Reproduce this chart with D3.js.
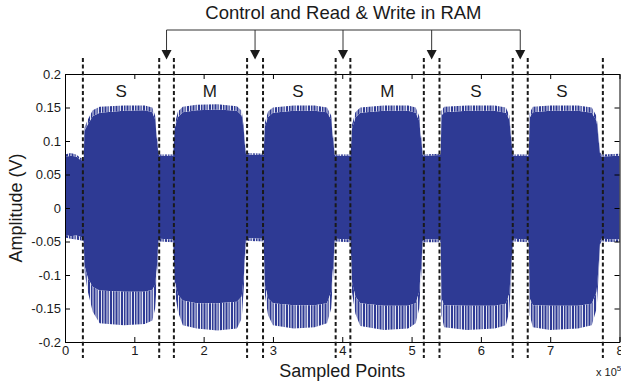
<!DOCTYPE html>
<html>
<head>
<meta charset="utf-8">
<script src="https://cdn.jsdelivr.net/npm/d3@7"></script>
<style>
  body { margin: 0; background: #fff; }
  text { font-family: "Liberation Sans", Arial, Helvetica, sans-serif; fill: #1a1a1a; }
</style>
</head>
<body>
<svg id="chart" width="621" height="388"></svg>
<script>
// axis ticks (x in units of 1e5 samples)
const xTicks = [0, 1, 2, 3, 4, 5, 6, 7, 8];
const yTicks = [-0.2, -0.15, -0.1, -0.05, 0, 0.05, 0.1, 0.15, 0.2];

// dashed segment boundaries, pairs around each RAM access gap
const boundaries = [0.258, 1.359, 1.571, 2.627, 2.857, 3.905, 4.117, 5.177, 5.403, 6.460, 6.676, 7.76];
const segLabels = ["S", "M", "S", "M", "S", "S"];
const segLabelX = [0.81, 2.09, 3.36, 4.65, 5.93, 7.17];
const title = "Control and Read & Write in RAM";

// signal envelope: [x, topSolid, topPeak, botSolid, botPeak]
const lead = [
  [0.00, 0.076, 0.080, -0.040, -0.044],
  [0.08, 0.078, 0.082, -0.042, -0.046],
  [0.16, 0.077, 0.080, -0.041, -0.047],
  [0.22, 0.072, 0.075, -0.043, -0.048],
  [0.27, 0.070, 0.074, -0.044, -0.050]
];
const burst1 = [
  [0.28, 0.115, 0.120, -0.085, -0.095],
  [0.33, 0.125, 0.132, -0.105, -0.125],
  [0.40, 0.137, 0.146, -0.118, -0.155],
  [0.50, 0.142, 0.151, -0.123, -0.172],
  [0.85, 0.145, 0.153, -0.125, -0.175],
  [1.15, 0.146, 0.153, -0.125, -0.173],
  [1.26, 0.143, 0.150, -0.122, -0.168],
  [1.30, 0.132, 0.138, -0.115, -0.150],
  [1.325, 0.105, 0.110, -0.090, -0.110],
  [1.345, 0.082, 0.085, -0.050, -0.055]
];
const gap1 = [
  [1.36, 0.078, 0.080, -0.046, -0.050],
  [1.56, 0.078, 0.080, -0.047, -0.051]
];
const burst2 = [
  [1.585, 0.120, 0.126, -0.110, -0.125],
  [1.63, 0.136, 0.144, -0.130, -0.155],
  [1.70, 0.143, 0.151, -0.138, -0.175],
  [1.90, 0.146, 0.154, -0.142, -0.180],
  [2.20, 0.147, 0.155, -0.142, -0.183],
  [2.48, 0.145, 0.152, -0.140, -0.180],
  [2.55, 0.138, 0.145, -0.132, -0.165],
  [2.585, 0.110, 0.115, -0.095, -0.110],
  [2.605, 0.082, 0.085, -0.050, -0.055]
];
const gap2 = [
  [2.62, 0.080, 0.082, -0.045, -0.049],
  [2.865, 0.079, 0.081, -0.046, -0.050]
];
const burst3 = [
  [2.885, 0.122, 0.128, -0.115, -0.130],
  [2.93, 0.136, 0.144, -0.135, -0.160],
  [3.00, 0.142, 0.150, -0.142, -0.175],
  [3.30, 0.145, 0.153, -0.145, -0.180],
  [3.60, 0.145, 0.153, -0.145, -0.178],
  [3.78, 0.143, 0.150, -0.142, -0.172],
  [3.84, 0.132, 0.138, -0.125, -0.150],
  [3.87, 0.100, 0.105, -0.085, -0.100],
  [3.89, 0.080, 0.083, -0.050, -0.054]
];
const gap3 = [
  [3.90, 0.078, 0.080, -0.046, -0.050],
  [4.12, 0.078, 0.080, -0.047, -0.051]
];
const burst4 = [
  [4.14, 0.118, 0.124, -0.110, -0.125],
  [4.19, 0.135, 0.143, -0.132, -0.158],
  [4.26, 0.142, 0.150, -0.142, -0.176],
  [4.60, 0.145, 0.153, -0.146, -0.182],
  [4.95, 0.145, 0.153, -0.146, -0.180],
  [5.06, 0.142, 0.150, -0.142, -0.172],
  [5.11, 0.130, 0.137, -0.125, -0.150],
  [5.14, 0.100, 0.105, -0.085, -0.100],
  [5.16, 0.080, 0.083, -0.050, -0.054]
];
const gap4 = [
  [5.17, 0.078, 0.080, -0.047, -0.051],
  [5.42, 0.079, 0.081, -0.047, -0.051]
];
const burst5 = [
  [5.432, 0.138, 0.145, -0.135, -0.160],
  [5.47, 0.143, 0.151, -0.145, -0.178],
  [5.80, 0.145, 0.153, -0.146, -0.182],
  [6.20, 0.145, 0.153, -0.146, -0.180],
  [6.36, 0.142, 0.150, -0.143, -0.175],
  [6.41, 0.132, 0.138, -0.128, -0.155],
  [6.44, 0.100, 0.105, -0.085, -0.100],
  [6.46, 0.080, 0.083, -0.050, -0.054]
];
const gap5 = [
  [6.47, 0.078, 0.080, -0.046, -0.050],
  [6.69, 0.078, 0.080, -0.047, -0.051]
];
const burst6 = [
  [6.705, 0.135, 0.142, -0.135, -0.160],
  [6.75, 0.143, 0.151, -0.145, -0.178],
  [7.00, 0.145, 0.153, -0.146, -0.182],
  [7.40, 0.145, 0.153, -0.146, -0.180],
  [7.60, 0.142, 0.150, -0.143, -0.175],
  [7.67, 0.130, 0.137, -0.125, -0.150],
  [7.70, 0.100, 0.105, -0.085, -0.100],
  [7.72, 0.080, 0.083, -0.050, -0.054]
];
const tail = [
  [7.74, 0.077, 0.080, -0.046, -0.050],
  [8.00, 0.078, 0.081, -0.047, -0.051]
];

const BLUE = "#2e3a94";
const margin = { left: 65, right: 621 - 619.5, top: 74, bottom: 388 - 342 };
const width = 621, height = 388;

const envelope = [].concat(lead, burst1, gap1, burst2, gap2, burst3, gap3, burst4, gap4, burst5, gap5, burst6, tail);

const svg = d3.select("#chart");

const x = d3.scaleLinear().domain([0, 8]).range([margin.left, width - margin.right]);
const y = d3.scaleLinear().domain([-0.2, 0.2]).range([height - margin.bottom, margin.top]);

// comb texture for the ragged peaks (uneven stripes)
const defs = svg.append("defs");
const comb = defs.append("pattern")
  .attr("id", "comb")
  .attr("patternUnits", "userSpaceOnUse")
  .attr("width", 11)
  .attr("height", 10);
[[0, 2], [3, 1.5], [5.5, 2], [8.5, 1.2]].forEach(([rx, rw]) => {
  comb.append("rect").attr("x", rx).attr("y", 0).attr("width", rw).attr("height", 10).attr("fill", BLUE);
});
comb.insert("rect", ":first-child").attr("width", 11).attr("height", 10).attr("fill", "#e4e6f2");

const sig = svg.append("g");

sig.append("path")
  .datum(envelope)
  .attr("fill", BLUE)
  .attr("d", d3.area().x(d => x(d[0])).y0(d => y(d[3])).y1(d => y(d[1])));

sig.append("path")
  .datum(envelope)
  .attr("fill", "url(#comb)")
  .attr("d", d3.area().x(d => x(d[0])).y0(d => y(d[1])).y1(d => y(d[2])));

sig.append("path")
  .datum(envelope)
  .attr("fill", "url(#comb)")
  .attr("d", d3.area().x(d => x(d[0])).y0(d => y(d[4])).y1(d => y(d[3])));

// axes, MATLAB style: box with inward ticks
const fmt = d => String(d);
const x0 = x.range()[0], x1 = x.range()[1];
const y0 = y.range()[0], y1 = y.range()[1];

svg.append("g")
  .attr("transform", `translate(0,${y0})`)
  .call(d3.axisBottom(x).tickValues(xTicks).tickFormat(fmt).tickSize(-5).tickSizeOuter(0).tickPadding(4))
  .call(g => g.selectAll("text").attr("font-size", 13));

svg.append("g")
  .attr("transform", `translate(0,${y1})`)
  .call(d3.axisTop(x).tickValues(xTicks).tickFormat("").tickSize(-5).tickSizeOuter(0));

svg.append("g")
  .attr("transform", `translate(${x0},0)`)
  .call(d3.axisLeft(y).tickValues(yTicks).tickFormat(fmt).tickSize(-5).tickSizeOuter(0).tickPadding(4))
  .call(g => g.selectAll("text").attr("font-size", 13));

svg.append("g")
  .attr("transform", `translate(${x1},0)`)
  .call(d3.axisRight(y).tickValues(yTicks).tickFormat("").tickSize(-5).tickSizeOuter(0));

svg.selectAll(".domain").attr("stroke", "#000");
svg.selectAll(".tick line").attr("stroke", "#000");
svg.selectAll(".tick text").attr("fill", "#1a1a1a").style("font-family", "'Liberation Sans', Arial, sans-serif");

// dashed boundaries
svg.append("g")
  .selectAll("line")
  .data(boundaries)
  .join("line")
  .attr("x1", d => x(d)).attr("x2", d => x(d))
  .attr("y1", 58).attr("y2", 358)
  .attr("stroke", "#1a1a1a")
  .attr("stroke-width", 2)
  .attr("stroke-dasharray", "4,2.6");

// S / M segment labels
svg.append("g")
  .selectAll("text")
  .data(segLabels)
  .join("text")
  .attr("x", (d, i) => x(segLabelX[i]))
  .attr("y", 96.5)
  .attr("text-anchor", "middle")
  .attr("font-size", 17)
  .text(d => d);

// bracket with arrows down to each gap
const arrowX = d3.range(1, boundaries.length - 1, 2).map(i => (boundaries[i] + boundaries[i + 1]) / 2);
const bracketY = 30;
const ann = svg.append("g");
ann.append("line")
  .attr("x1", x(arrowX[0])).attr("x2", x(arrowX[arrowX.length - 1]))
  .attr("y1", bracketY).attr("y2", bracketY)
  .attr("stroke", "#333").attr("stroke-width", 1);
ann.selectAll("line.stem")
  .data(arrowX)
  .join("line")
  .attr("class", "stem")
  .attr("x1", d => x(d)).attr("x2", d => x(d))
  .attr("y1", bracketY).attr("y2", 51)
  .attr("stroke", "#333").attr("stroke-width", 1);
ann.selectAll("path")
  .data(arrowX)
  .join("path")
  .attr("d", d => `M${x(d) - 5},50 L${x(d) + 5},50 L${x(d)},59.5 Z`)
  .attr("fill", "#1a1a1a");

svg.append("text")
  .attr("x", (x(arrowX[0]) + x(arrowX[arrowX.length - 1])) / 2)
  .attr("y", 19)
  .attr("text-anchor", "middle")
  .attr("font-size", 18.5)
  .text(title);

// axis titles
svg.append("text")
  .attr("x", (x0 + x1) / 2)
  .attr("y", 377)
  .attr("text-anchor", "middle")
  .attr("font-size", 18)
  .text("Sampled Points");

svg.append("text")
  .attr("transform", `translate(22,${y(0)}) rotate(-90)`)
  .attr("text-anchor", "middle")
  .attr("font-size", 18)
  .text("Amplitude (V)");

const mult = svg.append("text")
  .attr("x", 596)
  .attr("y", 376)
  .attr("font-size", 11);
mult.append("tspan").text("x 10");
mult.append("tspan").attr("dy", -5).attr("font-size", 8).text("5");
</script>
</body>
</html>
